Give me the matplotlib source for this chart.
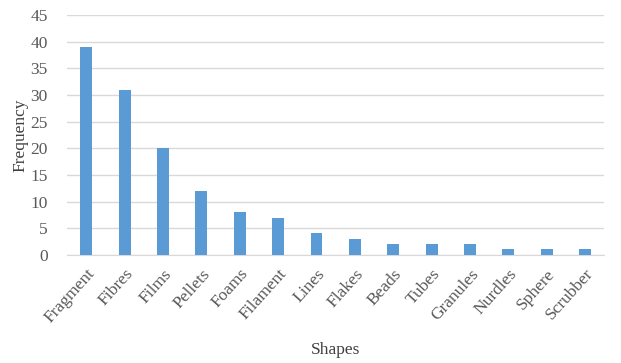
import matplotlib.pyplot as plt
import numpy as np

shapes = ['Fragment', 'Fibres', 'Films', 'Pellets', 'Foams', 'Filament', 'Lines',
          'Flakes', 'Beads', 'Tubes', 'Granules', 'Nurdles', 'Sphere', 'Scrubber']
frequency = [39, 31, 20, 12, 8, 7, 4, 3, 2, 2, 2, 1, 1, 1]

plt.rcParams['font.family'] = ['Liberation Serif', 'DejaVu Serif']

fig = plt.figure(figsize=(6.21, 3.63), dpi=100)
ax = fig.add_axes([0.108, 0.298, 0.865, 0.661])

x = np.arange(len(shapes))
ax.bar(x, frequency, width=0.31, color='#5B9BD5', zorder=3)

ax.set_xlim(-0.5, len(shapes) - 0.5)
ax.set_ylim(0, 45)
ax.set_yticks(range(0, 46, 5))
ax.yaxis.grid(True, color='#D9D9D9', linewidth=1, zorder=0)
for s in ['top', 'right', 'left']:
    ax.spines[s].set_visible(False)
ax.spines['bottom'].set_color('#D9D9D9')
ax.tick_params(axis='both', length=0, colors='#595959', labelsize=12.5)
ax.tick_params(axis='y', pad=14)
ax.tick_params(axis='x', pad=8)

ax.set_xticks(x)
ax.set_xticklabels(shapes, rotation=48, ha='right', rotation_mode='anchor')

ax.set_xlabel('Shapes', fontsize=12.5, color='#404040', labelpad=11)
ax.set_ylabel('Frequency', fontsize=12.5, color='#404040', labelpad=1)

fig.savefig('out.png', dpi=100)
